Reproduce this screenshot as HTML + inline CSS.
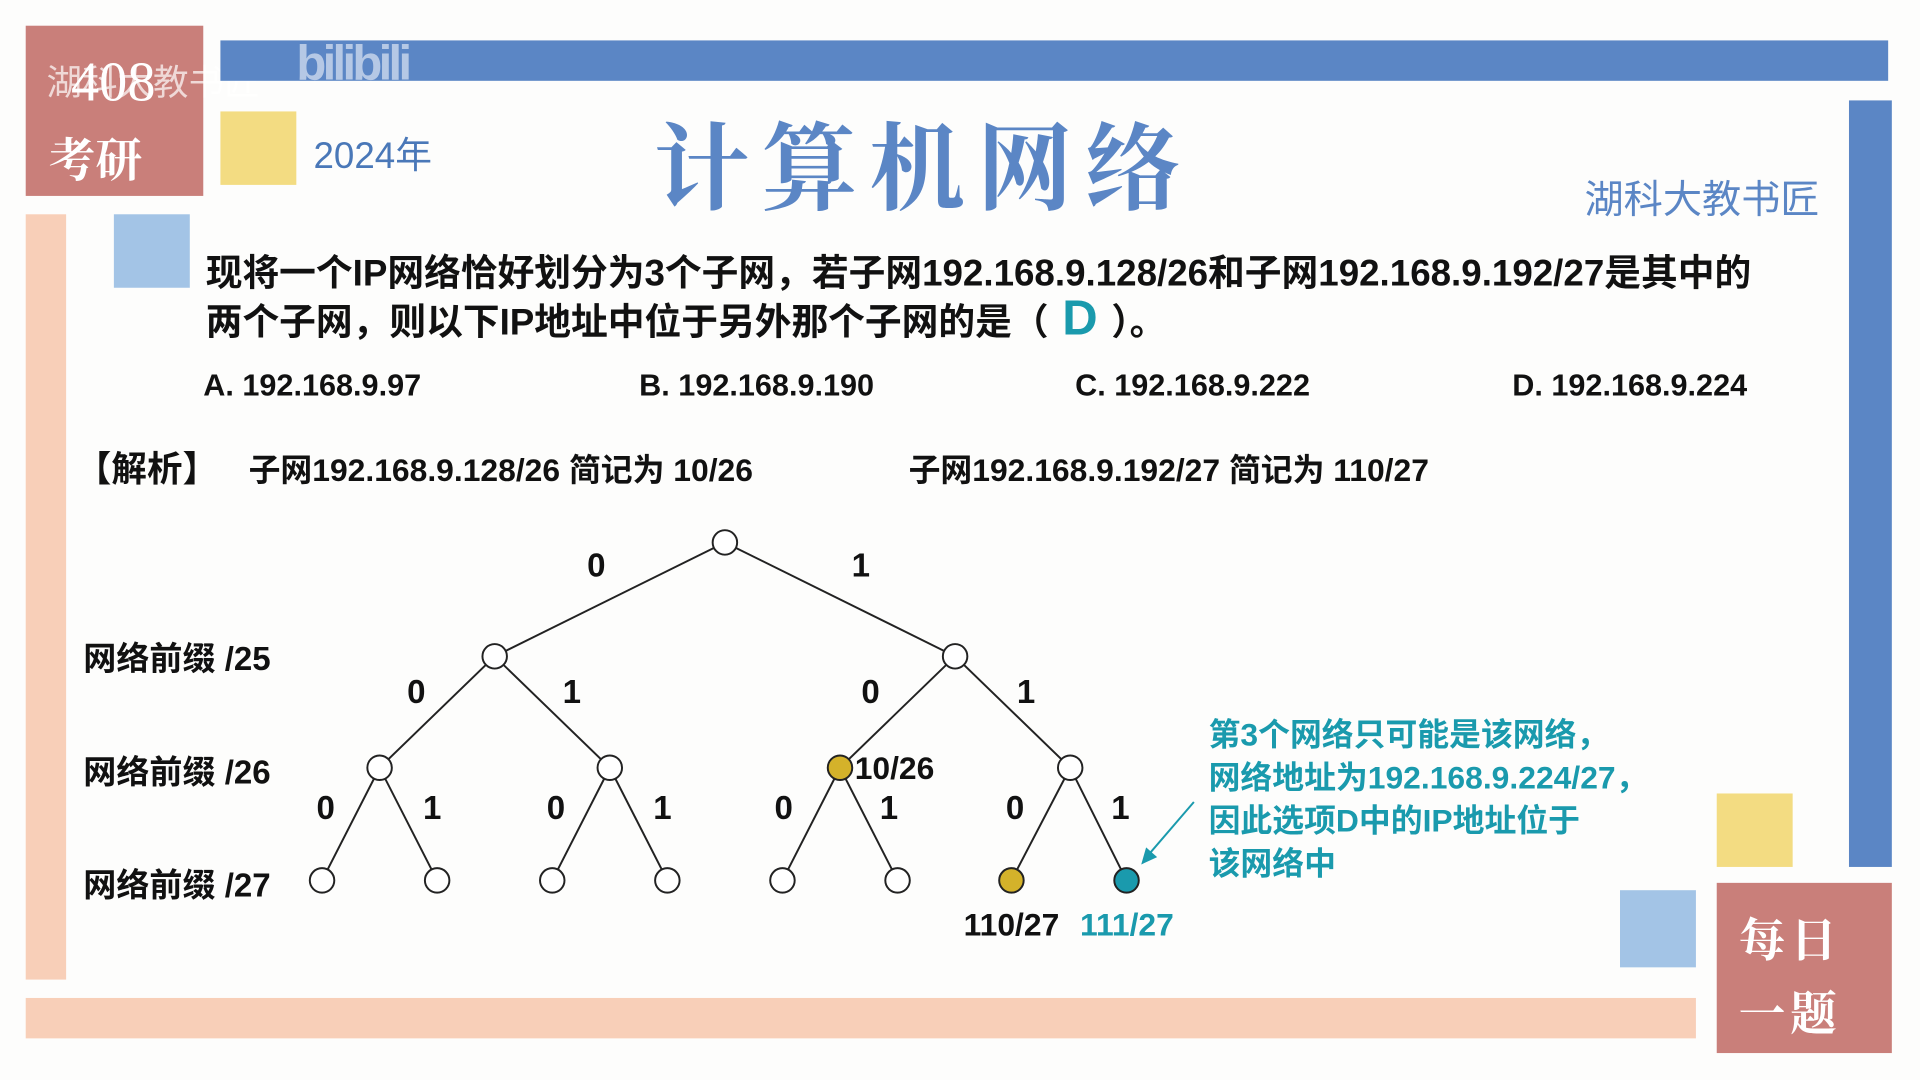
<!DOCTYPE html>
<html><head><meta charset="utf-8"><style>
html,body{margin:0;padding:0;background:#fdfdfc;overflow:hidden}
#w{position:absolute;left:0;top:0;width:1568px;height:882px;transform:scale(1.22449);transform-origin:0 0;font-family:"Liberation Sans","Noto Sans CJK SC",sans-serif}
.a{position:absolute;white-space:nowrap}
.b{font-weight:bold}
.n{font-family:"Liberation Sans Narrow","Liberation Sans","Noto Sans CJK SC",sans-serif;font-weight:bold}
</style></head><body><div id="w">
<div class="a" style="left:21px;top:21px;width:145px;height:139px;background:#c97f7a"></div>
<div class="a" style="left:58px;top:40px;font-family:'Liberation Serif',serif;font-size:46px;color:#fff">408</div>
<div class="a b" style="left:40px;top:100px;font-size:38px;color:#fff;font-family:'Noto Serif CJK SC',serif">考研</div>
<div class="a" style="left:38px;top:44px;font-size:29px;color:rgba(255,255,255,0.7)">湖科大教书匠</div>
<div class="a" style="left:180px;top:33px;width:1362px;height:33px;background:#5b86c5"></div>
<div class="a b" style="left:242px;top:30px;font-size:40px;color:rgba(255,255,255,0.55);letter-spacing:-3px">bilibili</div>
<div class="a" style="left:180px;top:91px;width:62px;height:60px;background:#f3dc82"></div>
<div class="a" style="left:256px;top:102px;font-size:30px;color:#4a78b8">2024年</div>
<div class="a b" style="left:534px;top:76px;font-size:78px;letter-spacing:10px;color:#5b86c5;font-family:'Noto Serif CJK SC',serif">计算机网络</div>
<div class="a" style="left:1510px;top:82px;width:35px;height:626px;background:#5b86c5"></div>
<div class="a" style="left:1294px;top:138px;font-size:32px;color:#5b86c5">湖科大教书匠</div>
<div class="a" style="left:21px;top:175px;width:33px;height:625px;background:#f8cfb8"></div>
<div class="a" style="left:21px;top:815px;width:1364px;height:33px;background:#f8cfb8"></div>
<div class="a" style="left:93px;top:175px;width:62px;height:60px;background:#a3c4e6"></div>
<div class="a n" style="left:168px;top:198px;font-size:30px;color:#111">现将一个IP网络恰好划分为3个子网，若子网192.168.9.128/26和子网192.168.9.192/27是其中的</div>
<div class="a n" style="left:168px;top:238px;font-size:30px;color:#111">两个子网，则以下IP地址中位于另外那个子网的是（<span style="color:#1a9aad;font-size:40px;line-height:20px"> D </span>）。</div>
<div class="a n" style="left:166px;top:301px;font-size:25px;color:#111">A. 192.168.9.97</div>
<div class="a n" style="left:522px;top:301px;font-size:25px;color:#111">B. 192.168.9.190</div>
<div class="a n" style="left:878px;top:301px;font-size:25px;color:#111">C. 192.168.9.222</div>
<div class="a n" style="left:1235px;top:301px;font-size:25px;color:#111">D. 192.168.9.224</div>
<div class="a n" style="left:62px;top:360px;font-size:29px;color:#111">【解析】</div>
<div class="a n" style="left:203px;top:364px;font-size:26px;color:#111">子网192.168.9.128/26 简记为 10/26</div>
<div class="a n" style="left:742px;top:364px;font-size:26px;color:#111">子网192.168.9.192/27 简记为 110/27</div>
<div class="a n" style="left:68px;top:516px;font-size:27px;color:#111">网络前缀 /25</div>
<div class="a n" style="left:68px;top:609px;font-size:27px;color:#111">网络前缀 /26</div>
<div class="a n" style="left:68px;top:701px;font-size:27px;color:#111">网络前缀 /27</div>
<svg class="a" style="left:0;top:0" width="1568" height="882">
<g stroke="#222" stroke-width="1.6" fill="none">
<line x1="592" y1="443" x2="404" y2="536"/><line x1="592" y1="443" x2="780" y2="536"/>
<line x1="404" y1="536" x2="310" y2="627"/><line x1="404" y1="536" x2="498" y2="627"/>
<line x1="780" y1="536" x2="686" y2="627"/><line x1="780" y1="536" x2="874" y2="627"/>
<line x1="310" y1="627" x2="263" y2="719"/><line x1="310" y1="627" x2="357" y2="719"/>
<line x1="498" y1="627" x2="451" y2="719"/><line x1="498" y1="627" x2="545" y2="719"/>
<line x1="686" y1="627" x2="639" y2="719"/><line x1="686" y1="627" x2="733" y2="719"/>
<line x1="874" y1="627" x2="826" y2="719"/><line x1="874" y1="627" x2="920" y2="719"/>
</g>
<g stroke="#222" stroke-width="1.6" fill="#fff">
<circle cx="592" cy="443" r="10"/><circle cx="404" cy="536" r="10"/><circle cx="780" cy="536" r="10"/>
<circle cx="310" cy="627" r="10"/><circle cx="498" cy="627" r="10"/><circle cx="686" cy="627" r="10" fill="#d4b22a"/><circle cx="874" cy="627" r="10"/>
<circle cx="263" cy="719" r="10"/><circle cx="357" cy="719" r="10"/><circle cx="451" cy="719" r="10"/><circle cx="545" cy="719" r="10"/>
<circle cx="639" cy="719" r="10"/><circle cx="733" cy="719" r="10"/><circle cx="826" cy="719" r="10" fill="#d4b22a"/><circle cx="920" cy="719" r="10" fill="#1a9aad"/>
</g>
<line x1="975" y1="655" x2="938" y2="698" stroke="#1a9aad" stroke-width="1.6"/>
<polygon points="932,706 936,692 945,700" fill="#1a9aad"/>
<g font-family="Liberation Sans Narrow,Liberation Sans,sans-serif" font-size="27" fill="#111" font-weight="bold" text-anchor="middle">
<text x="487" y="471">0</text><text x="703" y="471">1</text>
<text x="340" y="574">0</text><text x="467" y="574">1</text><text x="711" y="574">0</text><text x="838" y="574">1</text>
<text x="266" y="669">0</text><text x="353" y="669">1</text><text x="454" y="669">0</text><text x="541" y="669">1</text>
<text x="640" y="669">0</text><text x="726" y="669">1</text><text x="829" y="669">0</text><text x="915" y="669">1</text>
</g>
<g font-family="Liberation Sans Narrow,Liberation Sans,sans-serif" font-size="26" font-weight="bold">
<text x="698" y="636" fill="#111">10/26</text>
<text x="787" y="764" fill="#111">110/27</text>
<text x="882" y="764" fill="#1a9aad">111/27</text>
</g>
</svg>
<div class="a n" style="left:987px;top:583px;font-size:26px;line-height:35px;color:#1a9aad">第3个网络只可能是该网络，<br>网络地址为192.168.9.224/27，<br>因此选项D中的IP地址位于<br>该网络中</div>
<div class="a" style="left:1402px;top:648px;width:62px;height:60px;background:#f3dc82"></div>
<div class="a" style="left:1323px;top:727px;width:62px;height:63px;background:#a3c4e6"></div>
<div class="a" style="left:1402px;top:721px;width:143px;height:139px;background:#c97f7a"></div>
<div class="a b" style="left:1420px;top:735px;font-size:38px;line-height:60px;color:#fff;font-family:'Noto Serif CJK SC',serif;letter-spacing:4px">每日<br>一题</div>
</div></body></html>
